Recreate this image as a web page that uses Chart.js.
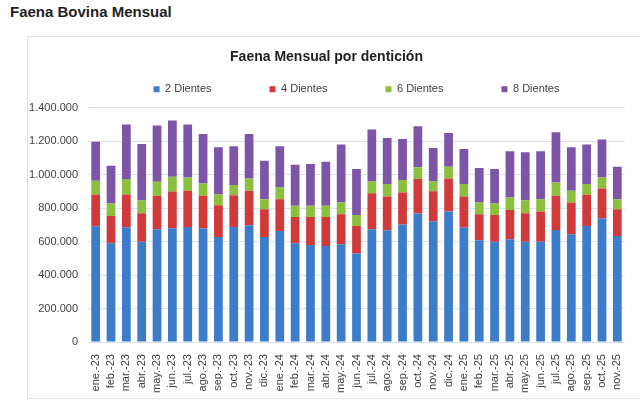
<!DOCTYPE html>
<html>
<head>
<meta charset="utf-8">
<script src="https://cdn.jsdelivr.net/npm/chart.js@4.4.1/dist/chart.umd.min.js"></script>
<style>
  html, body { margin: 0; padding: 0; background: #fff; overflow: hidden; }
  body { width: 640px; height: 403px; position: relative; font-family: "Liberation Sans", Arial, sans-serif; }
  #pageTitle { position: absolute; left: 10px; top: 3px; font-size: 15px; font-weight: bold; color: #1f1f1f; }
  #frame { position: absolute; left: 27px; top: 36px; width: 700px; height: 361px; border: 1px solid #dbe3f2; }
  #wrap { position: absolute; left: 28px; top: 37px; width: 612px; height: 360px; }
</style>
</head>
<body>
<div id="pageTitle">Faena Bovina Mensual</div>
<div id="frame"></div>
<div id="wrap"><canvas id="faenaChart"></canvas></div>
<script>
//categories: months ene-23 .. nov-25
const meses = [
  'ene.-23','feb.-23','mar.-23','abr.-23','may.-23','jun.-23','jul.-23','ago.-23','sep.-23','oct.-23','nov.-23','dic.-23',
  'ene.-24','feb.-24','mar.-24','abr.-24','may.-24','jun.-24','jul.-24','ago.-24','sep.-24','oct.-24','nov.-24','dic.-24',
  'ene.-25','feb.-25','mar.-25','abr.-25','may.-25','jun.-25','jul.-25','ago.-25','sep.-25','oct.-25','nov.-25'
];

//heads per dentition
let dientes2 = [692000,590000,686000,600000,674000,680000,688000,678000,628000,688000,698000,628000,
                664000,590000,580000,574000,584000,530000,674000,668000,702000,768000,720000,780000,
                684000,608000,600000,614000,600000,600000,670000,644000,694000,740000,634000];
let dientes4 = [190000,164000,196000,170000,200000,220000,216000,196000,190000,190000,206000,166000,
                190000,158000,168000,174000,180000,164000,216000,202000,192000,206000,182000,198000,
                186000,156000,160000,176000,170000,180000,204000,190000,186000,178000,160000];
let dientes6 = [82000,74000,92000,76000,84000,88000,80000,74000,64000,60000,74000,60000,
                70000,66000,66000,66000,70000,66000,70000,74000,74000,70000,58000,70000,
                74000,70000,68000,74000,78000,74000,80000,70000,64000,66000,60000];
let dientes8 = [233000,226000,326000,338000,336000,336000,316000,296000,282000,232000,266000,230000,
                246000,246000,250000,264000,346000,274000,310000,276000,246000,246000,200000,202000,
                210000,206000,206000,276000,286000,286000,300000,260000,236000,226000,194000];

//y ticks
const yMax = 1400000;
const yStep = 200000;

const seriesNames = ['2 Dientes', '4 Dientes', '6 Dientes', '8 Dientes'];
const seriesColors = ['#3d7cc9', '#d03a3b', '#8dbf3f', '#7c55a7'];

const fmtMiles = (v) => String(v).replace(/\B(?=(\d{3})+(?!\d))/g, '.');

//setup
const dataFaena = {
    labels: meses,
    datasets: [dientes2, dientes4, dientes6, dientes8].map((vals, i) => ({
        label: seriesNames[i],
        data: vals,
        backgroundColor: seriesColors[i],
        borderWidth: 0,
        barPercentage: 1,
        categoryPercentage: 0.57,
    }))
};

//legend items are spread wide like the excel original, drawn a bit higher
const legendLift = {
    id: 'legendLift',
    afterLayout(chart) {
        if (chart.legend) chart.legend.top -= 46;
    }
};

//options
const optionFaena = {
    animation: false,
    responsive: true,
    maintainAspectRatio: false,
    layout: { padding: { top: 0, right: 15, left: 0, bottom: 0 } },
    plugins: {
        title: {
            display: true,
            text: 'Faena Mensual por dentición',
            color: '#1f1f1f',
            font: { family: '"Liberation Sans", Arial, sans-serif', size: 14, weight: 'bold' },
            padding: { top: 12, bottom: 6 }
        },
        legend: {
            position: 'top',
            fullSize: false,
            maxHeight: 36,
            labels: {
                boxWidth: 6,
                boxHeight: 6,
                padding: 58,
                color: '#404040',
                font: { family: '"Liberation Sans", Arial, sans-serif', size: 11 }
            }
        },
        tooltip: { enabled: false }
    },
    scales: {
        x: {
            stacked: true,
            grid: { display: false },
            border: { display: false },
            ticks: {
                color: '#404040',
                font: { family: '"Liberation Sans", Arial, sans-serif', size: 11 },
                minRotation: 90,
                maxRotation: 90,
                autoSkip: false,
                padding: 4
            }
        },
        y: {
            stacked: true,
            min: 0,
            max: yMax,
            border: { display: false },
            grid: { color: '#dbe2f0', drawTicks: false },
            afterFit: (scale) => { scale.width = 60; },
            ticks: {
                stepSize: yStep,
                color: '#404040',
                padding: 10,
                font: { family: '"Liberation Sans", Arial, sans-serif', size: 11 },
                callback: (v) => fmtMiles(v)
            }
        }
    }
};

//config
const configFaena = {
    type: 'bar',
    data: dataFaena,
    options: optionFaena,
    plugins: [legendLift]
};

//render
const faenaChart = new Chart(
    document.getElementById('faenaChart').getContext('2d'),
    configFaena
);
</script>
</body>
</html>
